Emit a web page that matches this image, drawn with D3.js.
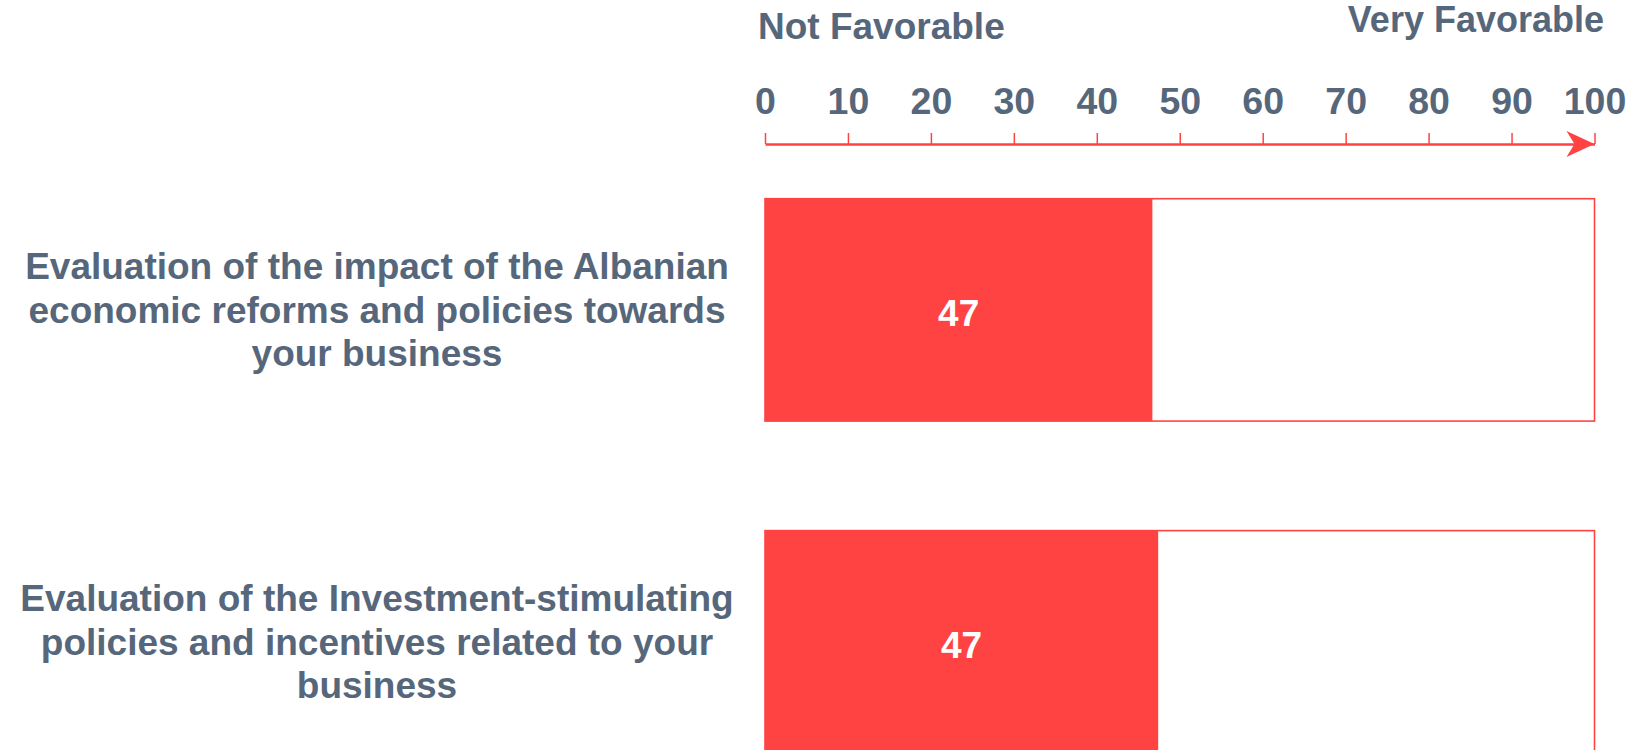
<!DOCTYPE html>
<html>
<head>
<meta charset="utf-8">
<script src="https://cdn.jsdelivr.net/npm/d3@7"></script>
<style>
    body { margin: 0; background: #fff; }
    svg text { font-family: "Liberation Sans", Arial, sans-serif; font-weight: bold; }
</style>
</head>
<body>
<svg id="chart" width="1630" height="750"></svg>
<script>
// data
const categories = [
    ['Evaluation of the impact of the Albanian', 'economic reforms and policies towards', 'your business'],
    ['Evaluation of the Investment-stimulating', 'policies and incentives related to your', 'business']
];
const values = [46.7, 47.4];
const tickValues = [0, 10, 20, 30, 40, 50, 60, 70, 80, 90, 100];
const scaleLabels = ['Not Favorable', 'Very Favorable'];

const red = '#ff4343';
const textColor = '#56677b';

const svg = d3.select('#chart');

const x = d3.scaleLinear().domain([0, 100]).range([765, 1594.5]);
const y = d3.scaleBand()
    .domain(d3.range(categories.length))
    .range([198.7, 753])
    .paddingInner(0.33)
    .paddingOuter(0);

// top axis with arrow
const axisY = 144;
const axis = svg.append('g')
    .attr('class', 'x axis')
    .attr('transform', `translate(0,${axisY})`)
    .call(d3.axisTop(x).tickValues(tickValues).tickSize(11).tickSizeOuter(0).tickPadding(19));

axis.select('.domain').attr('stroke', red).attr('stroke-width', 2.5);
axis.selectAll('.tick line').attr('stroke', red).attr('stroke-width', 1.5);
axis.selectAll('.tick text')
    .attr('fill', textColor)
    .attr('font-size', 37.5)
    .attr('font-family', '"Liberation Sans", Arial, sans-serif')
    .attr('font-weight', 'bold');

svg.append('path')
    .attr('d', `M${x(100) - 28},${axisY - 13} L${x(100)},${axisY} L${x(100) - 28},${axisY + 13} L${x(100) - 20},${axisY} Z`)
    .attr('fill', red);

// end labels
svg.append('text')
    .attr('x', x(0) - 7)
    .attr('y', 38.5)
    .attr('fill', textColor)
    .attr('font-size', 37)
    .text(scaleLabels[0]);

svg.append('text')
    .attr('x', 1604)
    .attr('y', 32)
    .attr('text-anchor', 'end')
    .attr('fill', textColor)
    .attr('font-size', 36)
    .text(scaleLabels[1]);

// bars
const rows = svg.append('g').selectAll('.row')
    .data(values)
    .enter()
    .append('g')
    .attr('class', 'row');

rows.append('rect')
    .attr('x', x(0))
    .attr('y', (d, i) => y(i))
    .attr('width', x(100) - x(0))
    .attr('height', y.bandwidth())
    .attr('fill', '#fff')
    .attr('stroke', red)
    .attr('stroke-width', 1.6);

rows.append('rect')
    .attr('x', x(0))
    .attr('y', (d, i) => y(i))
    .attr('width', d => x(d) - x(0))
    .attr('height', y.bandwidth())
    .attr('fill', red);

rows.append('text')
    .attr('x', d => (x(0) + x(d)) / 2)
    .attr('y', (d, i) => y(i) + y.bandwidth() / 2 + 3)
    .attr('dy', '0.35em')
    .attr('text-anchor', 'middle')
    .attr('fill', '#fff')
    .attr('font-size', 37)
    .text(d => Math.round(d));

// category labels
const lineH = 43.5;
rows.append('text')
    .attr('text-anchor', 'middle')
    .attr('fill', textColor)
    .attr('font-size', 37)
    .each(function (d, i) {
        const lines = categories[i];
        const cy = y(i) + y.bandwidth() / 2;
        d3.select(this).selectAll('tspan')
            .data(lines)
            .enter()
            .append('tspan')
            .attr('x', 377)
            .attr('y', (l, j) => cy + (j - (lines.length - 1) / 2) * lineH)
            .attr('dy', '0.35em')
            .text(l => l);
    });
</script>
</body>
</html>
